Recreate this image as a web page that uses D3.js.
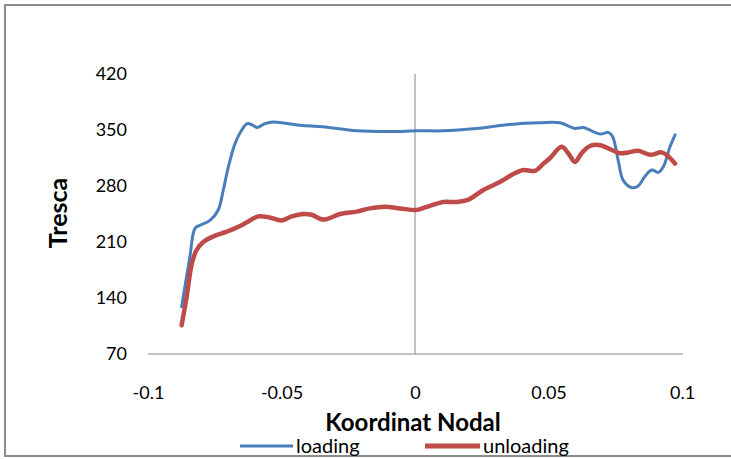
<!DOCTYPE html>
<html>
<head>
<meta charset="utf-8">
<script src="https://cdn.jsdelivr.net/npm/d3@7"></script>
<style>
  html, body { margin: 0; padding: 0; background: #fff; }
  svg { display: block; font-family: Lato, "Open Sans", sans-serif; }
</style>
</head>
<body>
<svg id="chart" width="731" height="459"></svg>
<script>
// Tresca stress along the nodal coordinate, loading vs unloading
const loadingX = [-0.0874, -0.0843, -0.0824, -0.0805, -0.0768, -0.0737, -0.0718, -0.0699, -0.0674, -0.0649,
  -0.0628, -0.0608, -0.0591, -0.0562, -0.0531, -0.0431, -0.0345, -0.0218, -0.0094, 0.0012,
  0.0105, 0.0231, 0.0356, 0.0468, 0.0543, 0.0599, 0.0630, 0.0693, 0.0724, 0.0740,
  0.0761, 0.0780, 0.0812, 0.0836, 0.0861, 0.0887, 0.0911, 0.0930, 0.0955, 0.0974];
const loadingY = [129, 192, 227, 231, 237, 250, 275, 304, 333, 350,
  358, 356, 353, 358, 360, 356, 354, 349, 348, 349,
  349, 352, 357, 359, 359, 352, 353, 345, 347, 342,
  312, 287, 278, 280, 292, 300, 297, 304, 329, 344];

const unloadingX = [-0.0874, -0.0855, -0.0836, -0.0818, -0.0793, -0.0755, -0.0705, -0.0655, -0.0618, -0.0587,
  -0.0549, -0.0499, -0.0462, -0.0418, -0.0387, -0.0343, -0.0281, -0.0218, -0.0169, -0.0112,
  -0.0056, 0.0006, 0.0044, 0.0106, 0.0156, 0.0200, 0.0256, 0.0318, 0.0368, 0.0406,
  0.0449, 0.0481, 0.0506, 0.0549, 0.0574, 0.0599, 0.0624, 0.0655, 0.0693, 0.0737,
  0.0768, 0.0799, 0.0836, 0.0880, 0.0924, 0.0949, 0.0974];
const unloadingY = [106, 142, 183, 200, 210, 217, 223, 230, 237, 242,
  241, 237, 242, 245, 244, 238, 245, 248, 252, 254,
  252, 250, 254, 260, 260, 263, 275, 285, 295, 300,
  299, 308, 315, 329, 321, 310, 321, 330, 331, 325,
  321, 322, 324, 319, 322, 317, 308];

const xTicks = [-0.1, -0.05, 0, 0.05, 0.1];
const yTicks = [70, 140, 210, 280, 350, 420];
const seriesNames = ["loading", "unloading"];
const seriesColors = ["#4a7ebb", "#be4b48"];
const seriesWidths = [3, 4.5];

const svg = d3.select("#chart");

// outer chart frame
svg.append("rect")
  .attr("x", 5).attr("y", 5).attr("width", 760).attr("height", 451)
  .attr("fill", "#fff").attr("stroke", "#8c8c8c").attr("stroke-width", 2);

const x = d3.scaleLinear().domain([-0.1, 0.1]).range([148, 682]);
const y = d3.scaleLinear().domain([70, 420]).range([354, 74]);

// y tick labels
const yAxis = svg.append("g")
  .attr("transform", "translate(127,0)")
  .call(d3.axisLeft(y).tickValues(yTicks).tickSize(0).tickPadding(0).tickFormat(d3.format("d")));
yAxis.select(".domain").remove();
yAxis.selectAll("text").attr("font-size", 18).attr("fill", "#000").style("font-family", "Lato, sans-serif");

// x tick labels
const xAxis = svg.append("g")
  .attr("transform", "translate(0,386)")
  .call(d3.axisBottom(x).tickValues(xTicks).tickSize(0).tickPadding(0).tickFormat(d => d === 0 ? "0" : String(d)));
xAxis.select(".domain").remove();
xAxis.selectAll("text").attr("font-size", 18).attr("fill", "#000").style("font-family", "Lato, sans-serif");

// axis lines (value axis crosses at x = 0)
svg.append("line")
  .attr("x1", x(-0.1)).attr("x2", x(0.1) + 1).attr("y1", y(70)).attr("y2", y(70))
  .attr("stroke", "#888").attr("stroke-width", 1);
svg.append("line")
  .attr("x1", x(0)).attr("x2", x(0)).attr("y1", y(420)).attr("y2", y(70))
  .attr("stroke", "#888").attr("stroke-width", 1);

// series lines
const series = [
  { xs: loadingX, ys: loadingY },
  { xs: unloadingX, ys: unloadingY }
];
const line = d3.line().x(d => x(d[0])).y(d => y(d[1])).curve(d3.curveCatmullRom.alpha(0.5));
series.forEach((s, i) => {
  const pts = s.xs.map((v, k) => [v, s.ys[k]]);
  svg.append("path")
    .attr("d", line(pts))
    .attr("fill", "none")
    .attr("stroke", seriesColors[i])
    .attr("stroke-width", seriesWidths[i])
    .attr("stroke-linejoin", "round")
    .attr("stroke-linecap", "round");
});

// axis titles
svg.append("text")
  .attr("transform", "translate(67,213) rotate(-90)")
  .attr("text-anchor", "middle")
  .attr("font-size", 25).attr("font-weight", "bold")
  .text("Tresca");
svg.append("text")
  .attr("x", 413).attr("y", 431)
  .attr("text-anchor", "middle")
  .attr("font-size", 24).attr("font-weight", "bold")
  .text("Koordinat Nodal");

// legend
const legendX = [240, 425];
const legendLen = [53, 55];
seriesNames.forEach((name, i) => {
  const g = svg.append("g").attr("transform", `translate(${legendX[i]},446)`);
  g.append("line")
    .attr("x1", 0).attr("x2", legendLen[i]).attr("y1", 0).attr("y2", 0)
    .attr("stroke", seriesColors[i]).attr("stroke-width", i === 0 ? 3 : 5);
  g.append("text")
    .attr("x", legendLen[i] + 3).attr("y", 7)
    .attr("font-size", 20)
    .text(name);
});
</script>
</body>
</html>
